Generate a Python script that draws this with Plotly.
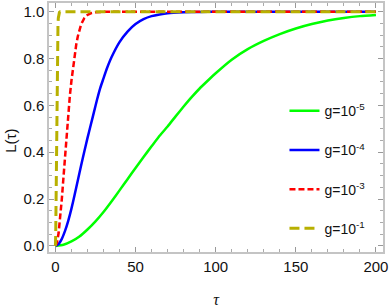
import plotly.graph_objects as go

tau_g5 = [0, 5, 10, 15, 20, 25, 30, 35, 40, 45, 50, 55, 60, 65, 70, 75, 80, 85, 90, 95, 100,
          110, 120, 130, 140, 150, 160, 170, 180, 190, 200]
L_g5 = [0, 0.005, 0.019, 0.04, 0.07, 0.105, 0.145, 0.19, 0.237, 0.285, 0.333, 0.38, 0.425, 0.47,
        0.51, 0.553, 0.595, 0.635, 0.672, 0.705, 0.737, 0.795, 0.84, 0.875, 0.904, 0.928, 0.947,
        0.962, 0.973, 0.981, 0.986]

tau_g4 = [0, 2, 4, 6, 8, 10, 12, 14, 16, 18, 20, 22, 24, 26, 28, 30, 32, 35, 40, 45, 50, 55, 60,
          65, 70, 80, 90, 100, 200]
L_g4 = [0, 0.008, 0.03, 0.064, 0.107, 0.159, 0.218, 0.28, 0.342, 0.402, 0.46, 0.515, 0.57, 0.625,
        0.675, 0.715, 0.755, 0.805, 0.87, 0.915, 0.947, 0.968, 0.981, 0.988, 0.993, 0.997, 0.999,
        1.0, 1.0]

tau_g3 = [0, 1, 2, 3, 4, 5, 6, 7, 8, 9, 10, 11, 12, 13, 14, 16, 18, 20, 22, 25, 30, 200]
L_g3 = [0, 0.015, 0.055, 0.12, 0.2, 0.29, 0.385, 0.48, 0.565, 0.64, 0.705, 0.765, 0.815, 0.86,
        0.895, 0.945, 0.972, 0.986, 0.993, 0.997, 1.0, 1.0]

tau_g1 = [0, 0.1, 0.2, 0.3, 0.4, 0.5, 0.6, 0.7, 0.8, 0.9, 1.0, 1.2, 1.4, 1.6, 1.8, 2.0, 2.5, 3, 200]
L_g1 = [0, 0.015, 0.055, 0.12, 0.2, 0.29, 0.385, 0.48, 0.565, 0.64, 0.705, 0.815, 0.895, 0.945,
        0.972, 0.986, 0.997, 1.0, 1.0]

names = ["g=10<sup>-5</sup>", "g=10<sup>-4</sup>", "g=10<sup>-3</sup>", "g=10<sup>-1</sup>"]

fig = go.Figure()
fig.add_trace(go.Scatter(x=tau_g5, y=L_g5, mode="lines", name=names[0], legendgroup="a",
                         line=dict(color="#00ff00", width=2.5, shape="spline", smoothing=0.5)))
fig.add_trace(go.Scatter(x=tau_g4, y=L_g4, mode="lines", name=names[1], legendgroup="b",
                         line=dict(color="#0000ff", width=2.5, shape="spline", smoothing=0.5)))
fig.add_trace(go.Scatter(x=tau_g3, y=L_g3, mode="lines", name=names[2], legendgroup="c",
                         line=dict(color="#ff0000", width=2.5, dash="6px,3px")))
fig.add_trace(go.Scatter(x=tau_g1, y=L_g1, mode="lines", name=names[3], legendgroup="d",
                         line=dict(color="#b8b000", width=3, dash="10px,5px")))

axis_common = dict(
    showline=True, linecolor="#c4c4c4", linewidth=1.5, mirror="ticks",
    ticks="inside", tickcolor="#999999", ticklen=5, tickwidth=1,
    showgrid=False, zeroline=False,
    tickfont=dict(family="Liberation Sans, Arial", size=15, color="#111111"),
)

fig.update_xaxes(range=[-4, 204.4], tickvals=[0, 50, 100, 150, 200],
                 minor=dict(dtick=10, ticks="inside", ticklen=3, tickcolor="#aaaaaa"),
                 title=dict(text="<i>τ</i>", font=dict(family="Liberation Serif, Times New Roman", size=16, color="#111111"), standoff=21),
                 **axis_common)
fig.update_yaxes(range=[-0.026, 1.037], tickvals=[0, 0.2, 0.4, 0.6, 0.8, 1.0], tickformat=".1f",
                 minor=dict(dtick=0.05, ticks="inside", ticklen=3, tickcolor="#aaaaaa"),
                 **axis_common)

fig.add_annotation(text="L(τ)", textangle=-90, xref="paper", yref="paper",
                   x=-0.115, y=0.445, xanchor="center", yanchor="middle", showarrow=False,
                   font=dict(family="Liberation Sans, Arial", size=15, color="#111111"))

fig.update_layout(
    width=390, height=308,
    margin=dict(l=49, r=7, t=1, b=56),
    plot_bgcolor="white", paper_bgcolor="white",
    legend=dict(x=0.705, y=0.63, xanchor="left", yanchor="top",
                bgcolor="rgba(0,0,0,0)", borderwidth=0, tracegroupgap=18,
                font=dict(family="Liberation Sans, Arial", size=14, color="#111111")),
)

fig.write_html("out.html", config={"displayModeBar": False},
               post_script="document.body.style.margin='0';")
